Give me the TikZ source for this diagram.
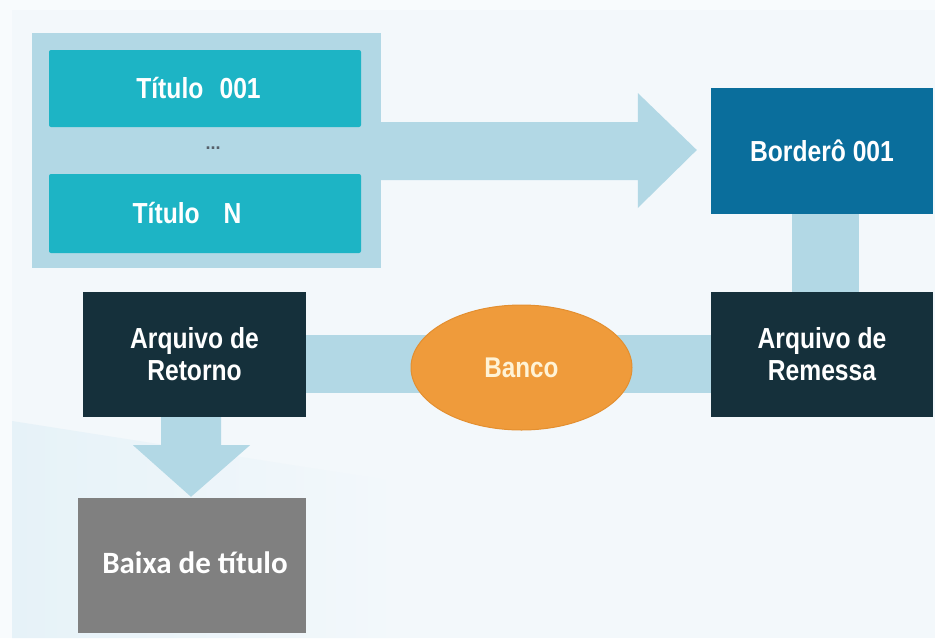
\documentclass[tikz,border=0pt]{standalone}
\usepackage{fontspec}
\usepackage{graphicx}
\usetikzlibrary{calc,shapes.geometric}
\newfontfamily\arialfont{Liberation Sans}
\newfontfamily\carlfont{Carlito}
\newcommand{\nt}[1]{\scalebox{0.85}[1]{#1}}
\definecolor{bgcol}{HTML}{F3F8FB}
\definecolor{bgblue}{HTML}{E6F2F8}
\definecolor{lblue}{HTML}{B2D8E5}
\definecolor{teal}{HTML}{1DB4C5}
\definecolor{bordblue}{HTML}{0A6E9C}
\definecolor{navy}{HTML}{15303B}
\definecolor{graybox}{HTML}{808080}
\definecolor{orange}{HTML}{EF9B3B}
\definecolor{orangeedge}{HTML}{E38F30}
\definecolor{cream}{HTML}{FFF3D6}
\definecolor{dotcol}{HTML}{56606A}
\pgfdeclarelayer{bgzero}
\pgfdeclarelayer{bgone}
\pgfsetlayers{bgzero,bgone,main}
\tikzset{
  boxbase/.style={rectangle, inner sep=0pt, align=center, text=white,
    font=\arialfont\bfseries\fontsize{29}{32}\selectfont},
  titbox/.style={boxbase, fill=teal, rounded corners=2pt},
  bordbox/.style={boxbase, fill=bordblue},
  arqbox/.style={boxbase, fill=navy},
  baixabox/.style={boxbase, fill=graybox, font=\carlfont\bfseries\fontsize{31}{34}\selectfont},
  bancoell/.style={ellipse, inner sep=0pt, fill=orange, draw=orangeedge, line width=1pt,
    text=cream, font=\arialfont\bfseries\fontsize{28.5}{32}\selectfont},
  connfill/.style={fill=lblue, draw=none}
}
\begin{document}
\begin{tikzpicture}[x=1pt,y=-1pt]
\useasboundingbox (0,0) rectangle (935,638);
% nodes
\node[rectangle, fill=lblue, minimum width=349pt, minimum height=235pt, inner sep=0pt] (grp) at (206.5,150.5) {};
\node[titbox, minimum width=312pt, minimum height=77pt] (t1) at (205,88.5) {\nt{Título\hspace{19pt}001}\hspace{13pt}};
\node[titbox, minimum width=312pt, minimum height=79pt] (tn) at (205,213.5) {\nt{Título\hspace{28pt}N}\hspace{36pt}};
\node[text=dotcol, font=\arialfont\bfseries\fontsize{18}{20}\selectfont, inner sep=0pt] (dots) at (213,148) {...};
\node[bordbox, minimum width=222pt, minimum height=126pt] (bord) at (822,151) {\nt{Borderô 001}};
\node[arqbox, minimum width=222pt, minimum height=125pt] (rem) at (822,354.5) {\nt{Arquivo de}\\\nt{Remessa}};
\node[arqbox, minimum width=223pt, minimum height=125pt] (ret) at (194.5,354.5) {\nt{Arquivo de}\\\nt{Retorno}};
\node[baixabox, minimum width=228pt, minimum height=135pt] (baixa) at (192,565.5) {\raisebox{5pt}{\hspace{6pt}Baixa de título}};
\node[bancoell, minimum width=221pt, minimum height=125pt] (banco) at (521.5,367.5) {\nt{Banco}};
% background
\begin{pgfonlayer}{bgzero}
  \fill[bgcol] (0,0) rectangle (935,638);
  \fill[white!40!bgcol] (0,0) rectangle (935,10);
  \fill[white!40!bgcol] (0,0) rectangle (12,638);
  \shade[left color=bgblue, right color=bgcol] (12,421) -- (400,482) -- (400,638) -- (12,638) -- cycle;
\end{pgfonlayer}
% connectors
\begin{pgfonlayer}{bgone}
  % big arrow: titles -> bordero
  \fill[connfill] ($(grp.east)+(0,-28.5)$) -- ($(bord.west)+(-73,-29)$) -- ($(bord.west)+(-73,-58)$)
     -- ($(bord.west)+(-14,-1)$) -- ($(bord.west)+(-73,57)$) -- ($(bord.west)+(-73,29)$)
     -- ($(grp.east)+(0,29.5)$) -- cycle;
  % bordero -- remessa
  \fill[connfill] ($(bord.south)+(-30,0)$) rectangle ($(rem.north)+(37,0)$);
  % retorno -- banco -- remessa
  \fill[connfill] ($(ret.east)+(0,-19.5)$) rectangle ($(rem.west)+(0,38.5)$);
  % retorno -> baixa
  \fill[connfill] ($(baixa.north |- ret.south)+(-31,0)$) -- ($(baixa.north |- ret.south)+(29,0)$)
     -- ($(baixa.north |- ret.south)+(29,28)$) -- ($(baixa.north |- ret.south)+(58,28)$)
     -- ($(baixa.north)+(-1,-1)$) -- ($(baixa.north |- ret.south)+(-59,28)$)
     -- ($(baixa.north |- ret.south)+(-31,28)$) -- cycle;
\end{pgfonlayer}
\end{tikzpicture}
\end{document}
